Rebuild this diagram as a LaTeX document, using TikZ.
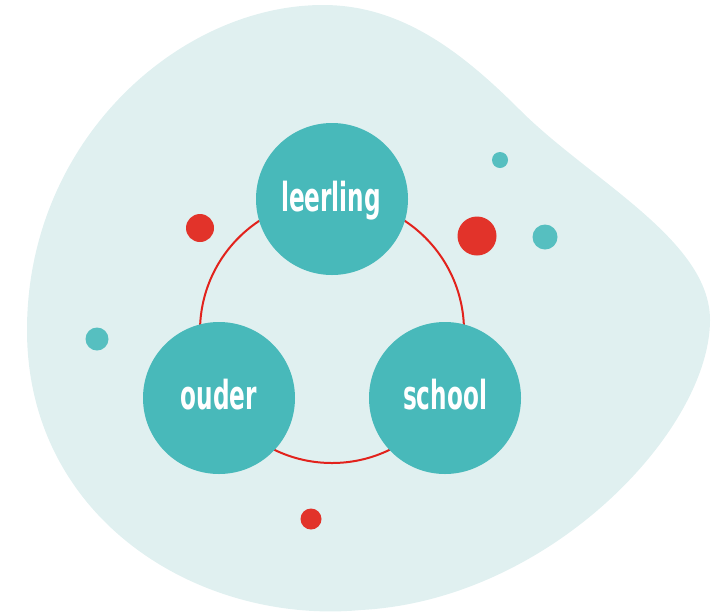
\documentclass[tikz,border=0pt]{standalone}
\usepackage{fontspec}
\newfontfamily\labelfont[FakeStretch=0.58]{DejaVu Sans}
\definecolor{blobbg}{HTML}{E0F0F0}
\definecolor{teal}{HTML}{48B9BA}
\definecolor{tealdot}{HTML}{56BFC0}
\definecolor{reddot}{HTML}{E2332A}
\definecolor{redring}{HTML}{E2221C}
\begin{document}
\begin{tikzpicture}[x=1pt,y=-1pt,
  bigcircle/.style={circle,fill=teal,draw=none,minimum size=152pt,inner sep=0pt},
  dotnode/.style={circle,draw=none,inner sep=0pt,minimum size=#1},
  lbl/.style={anchor=base,text=white,font=\labelfont\bfseries\fontsize{40}{40}\selectfont,inner sep=0pt}]
\useasboundingbox (0,0) rectangle (722,614);
% background blob
\fill[blobbg] (323,5) .. controls (400,5) and (460,50) .. (520,110)
  .. controls (590,180) and (710,240) .. (710,320)
  .. controls (710,430) and (550,600) .. (361,610)
  .. controls (200,625) and (27,520) .. (27,330)
  .. controls (27,140) and (180,5) .. (323,5) -- cycle;
% red ring
\draw[redring,line width=2pt] (332,331) circle[radius=132];
% main nodes
\node[bigcircle] (leerling) at (332,199) {};
\node[bigcircle] (ouder) at (219,398) {};
\node[bigcircle] (school) at (445,398) {};
\node[lbl] (tl) at (331,211) {leerling};
\node[lbl] (to) at (219,409) {ouder};
\node[lbl] (ts) at (445,409) {school};
% decorative dots
\node[dotnode=28pt,fill=reddot] (r1) at (200,228) {};
\node[dotnode=39pt,fill=reddot] (r2) at (477,236) {};
\node[dotnode=21pt,fill=reddot] (r3) at (311,519) {};
\node[dotnode=16pt,fill=tealdot] (t1) at (500,160) {};
\node[dotnode=25pt,fill=tealdot] (t2) at (545,237) {};
\node[dotnode=23pt,fill=tealdot] (t3) at (97,339) {};
\end{tikzpicture}
\end{document}
